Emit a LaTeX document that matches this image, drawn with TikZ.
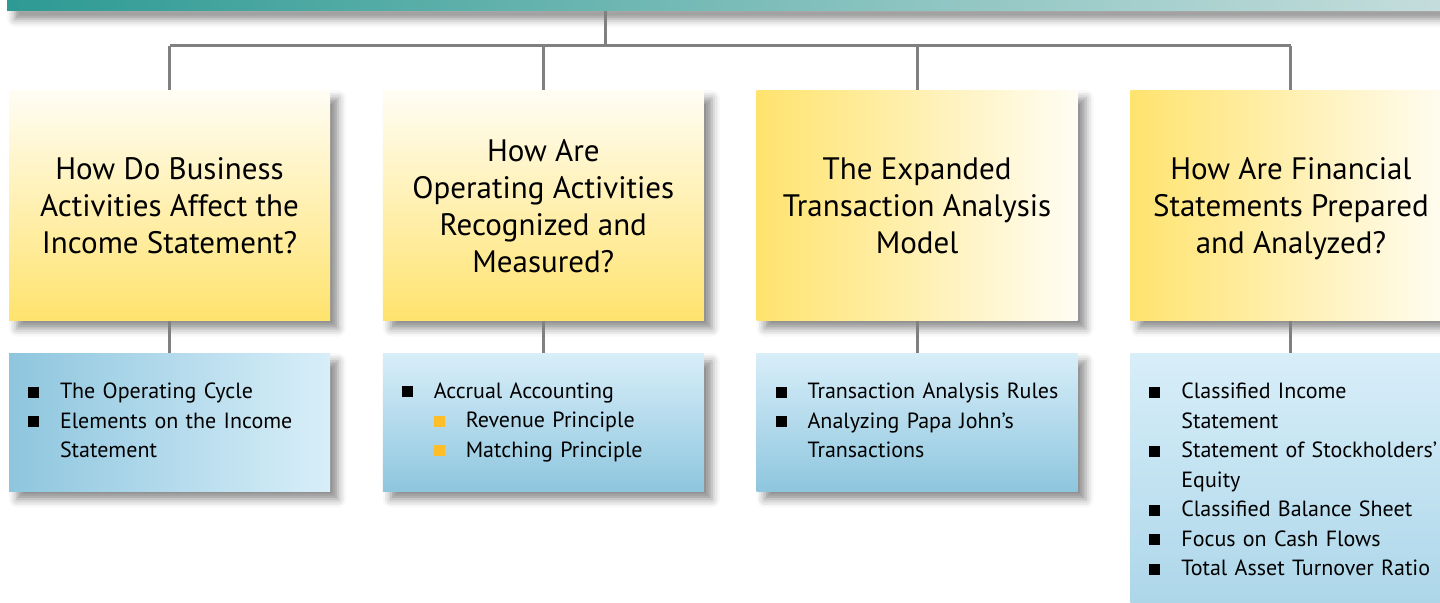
\documentclass[tikz,border=0pt]{standalone}
\usepackage{fontspec}
\setmainfont{PT Sans}
\usetikzlibrary{positioning,shadows.blur}
\definecolor{barleft}{HTML}{2D9A93}
\definecolor{barright}{HTML}{C4DDDC}
\definecolor{topicyel}{HTML}{FFE36E}
\definecolor{topicwht}{HTML}{FFFDF4}
\definecolor{listdark}{HTML}{8EC6DE}
\definecolor{listlight}{HTML}{D8EEF9}
\definecolor{subbul}{HTML}{FDBE2A}
\definecolor{connline}{HTML}{808080}
\newcommand{\blt}[1]{\textcolor{#1}{\rule[0.05em]{5.5pt}{5.5pt}}}
\newcommand{\lstrut}{\rule[-2pt]{0pt}{8pt}}
\newcommand{\bitem}[1]{\mbox{\lstrut\makebox[16pt][l]{\blt{black}}#1}}
\newcommand{\bcont}[1]{\mbox{\lstrut\hspace*{16pt}#1}}
\newcommand{\bsub}[1]{\mbox{\lstrut\hspace*{16pt}\makebox[16pt][l]{\blt{subbul}}#1}}
\tikzset{
  boxshadow/.style={blur shadow={shadow xshift=4pt, shadow yshift=-4pt, shadow blur radius=4pt, shadow opacity=45}},
  topic/.style={boxshadow, minimum width=160.5pt, minimum height=115pt, inner sep=0pt,
    text depth=0pt, align=center, font=\fontsize{15.5}{18.5}\selectfont},
  topicv/.style={topic, top color=topicwht, bottom color=topicyel},
  topich/.style={topic, left color=topicyel, right color=topicwht},
  sublist/.style={boxshadow, minimum width=160.5pt, minimum height=69pt, inner xsep=9.5pt,
    inner ysep=0pt, text width=141.5pt, align=left,
    font=\fontsize{11}{14.75}\selectfont},
  conn/.style={draw=connline, line width=1.5pt}
}
\begin{document}
\begin{tikzpicture}[x=0.5pt, y=-0.5pt, node distance=26pt]
  \useasboundingbox (0,0) rectangle (1440,603);
  % heading bar
  \node[boxshadow, left color=barleft, right color=barright, minimum width=716.5pt,
    minimum height=5.5pt, inner sep=0pt] (bar) at (723.5,5.5) {};
  \coordinate (split) at (605,46);
  % topics
  \node[topicv] (t1) at (169.5,205.5) {How Do Business\\Activities Affect the\\Income Statement?};
  \node[topicv] (t2) [right=of t1] {How Are\\Operating Activities\\Recognized and\\Measured?};
  \node[topich] (t3) [right=of t2] {The Expanded\\Transaction Analysis\\Model};
  \node[topich] (t4) [right=of t3] {How Are Financial\\Statements Prepared\\and Analyzed?};
  % lists
  \node[sublist, left color=listdark, right color=listlight] (s1) [below=16pt of t1]
    {\bitem{The Operating Cycle}\\\bitem{Elements on the Income}\\\bcont{Statement}};
  \node[sublist, top color=listlight, bottom color=listdark] (s2) [below=16pt of t2]
    {\bitem{Accrual Accounting}\\\bsub{Revenue Principle}\\\bsub{Matching Principle}};
  \node[sublist, top color=listlight, bottom color=listdark] (s3) [below=16pt of t3]
    {\bitem{Transaction Analysis Rules}\\\bitem{Analyzing Papa John’s}\\\bcont{Transactions}};
  \node[sublist, minimum height=128pt, top color=listlight, bottom color=listdark!60!listlight] (s4) [below=16pt of t4]
    {\bitem{Classified Income}\\\bcont{Statement}\\\bitem{Statement of Stockholders’}\\\bcont{Equity}\\
     \bitem{Classified Balance Sheet}\\\bitem{Focus on Cash Flows}\\\bitem{Total Asset Turnover Ratio}};
  % connectors
  \draw[conn] (bar.south -| split) -- (split);
  \draw[conn] (t1.north |- split) -- (t4.north |- split);
  \foreach \i in {1,...,4} {
    \draw[conn] (t\i.north |- split) -- (t\i.north);
    \draw[conn] (t\i) -- (s\i);
  }
\end{tikzpicture}
\end{document}
